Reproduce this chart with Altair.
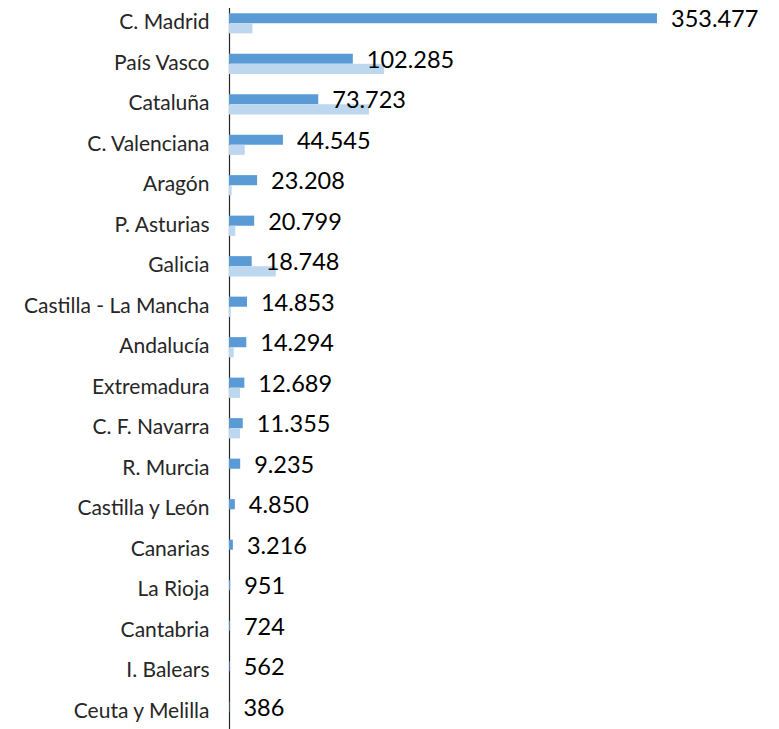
import altair as alt
import pandas as pd

regions = ["C. Madrid", "País Vasco", "Cataluña", "C. Valenciana", "Aragón",
           "P. Asturias", "Galicia", "Castilla - La Mancha", "Andalucía",
           "Extremadura", "C. F. Navarra", "R. Murcia", "Castilla y León",
           "Canarias", "La Rioja", "Cantabria", "I. Balears", "Ceuta y Melilla"]
serie_a = [353477, 102285, 73723, 44545, 23208, 20799, 18748, 14853, 14294,
           12689, 11355, 9235, 4850, 3216, 951, 724, 562, 386]
serie_b = [19300, 128000, 115600, 13000, 2200, 5200, 38600, 1400, 3900,
           9100, 9100, 0, 0, 0, 0, 0, 0, 0]
series_names = ["A", "B"]

rows = []
for r, a, b in zip(regions, serie_a, serie_b):
    rows.append({"region": r, "serie": series_names[0], "valor": a,
                 "etiqueta": f"{a:,}".replace(",", ".")})
    rows.append({"region": r, "serie": series_names[1], "valor": b,
                 "etiqueta": ""})
df = pd.DataFrame(rows)

FONT = "Lato"
xscale = alt.Scale(domain=[0, 437720], nice=False, zero=True)
yscale = alt.Scale(range=[-5, 724], paddingInner=0.5, paddingOuter=0.25)
yenc = alt.Y("region:N", sort=regions, scale=yscale,
             axis=alt.Axis(title=None, ticks=False, labelPadding=20,
                           labelLimit=300,
                           labelFont=FONT, labelFontSize=21,
                           labelColor="#262626", domainColor="#262626",
                           domainWidth=1.2))
yoff = alt.YOffset("serie:N", sort=series_names,
                   scale=alt.Scale(paddingInner=0, paddingOuter=0))

bars = alt.Chart(df).mark_bar().encode(
    x=alt.X("valor:Q", scale=xscale, axis=None),
    y=yenc,
    yOffset=yoff,
    color=alt.Color("serie:N", sort=series_names, legend=None,
                    scale=alt.Scale(domain=series_names,
                                    range=["#5B9BD5", "#BDD7EE"])),
)

labels = alt.Chart(df).transform_filter(
    alt.datum.serie == series_names[0]
).mark_text(align="left", baseline="middle", dx=14, dy=2, font=FONT,
            fontSize=23.5, color="#000000").encode(
    x=alt.X("valor:Q", scale=xscale, axis=None),
    y=yenc,
    yOffset=yoff,
    text="etiqueta:N",
)

chart = alt.layer(bars, labels).properties(
    width=530, height=724,
    autosize=alt.AutoSizeParams(type="none"),
    padding={"left": 221, "top": 0, "right": 10, "bottom": 0},
).configure_view(stroke=None)

chart.save("out.html", embed_options={"renderer": "svg", "actions": False})
